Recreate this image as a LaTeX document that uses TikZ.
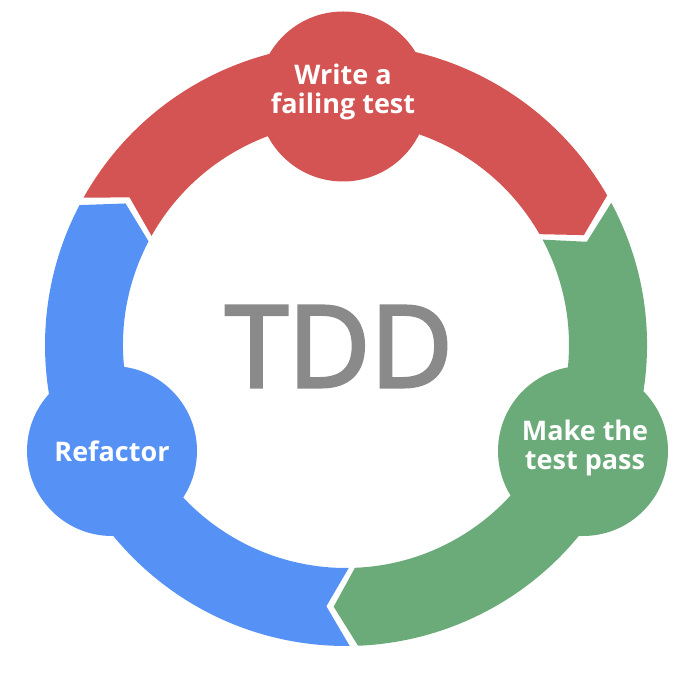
\documentclass[tikz,border=0pt]{standalone}
\usepackage{fontspec}
\setmainfont{Open Sans}
\newfontfamily\hubfont{Open Sans}[FakeBold=3]
\definecolor{tddred}{RGB}{212, 83, 83}
\definecolor{tddgreen}{RGB}{107, 170, 121}
\definecolor{tddblue}{RGB}{86, 146, 245}
\definecolor{tddgray}{RGB}{138, 138, 138}
\usepackage{tikz}
\usetikzlibrary{calc}

\begin{document}
\begin{tikzpicture}[
    x=1pt, y=1pt,
    stage/.style={circle, minimum size=170pt, inner sep=0pt},
    stagetext/.style={text=white, align=center, inner sep=0pt,
                      font=\bfseries\fontsize{27}{29}\selectfont}
  ]
    \useasboundingbox (0,0) rectangle (695,680);
    \coordinate (hub) at (346,335);

    % ring pieces: start angle / end angle / colour (clockwise)
    \foreach \s/\e/\c in {150.7/29.8/tddred, 28.2/-87.7/tddgreen,
                          -89.3/-207.7/tddblue}
      \fill[\c] ($(hub)+(\s:301)$) arc[start angle=\s, end angle=\e, radius=301]
        -- ($(hub)+(\e-5:262)$) -- ($(hub)+(\e:223)$)
        arc[start angle=\e, end angle=\s, radius=223]
        -- ($(hub)+(\s-5:262)$) -- cycle;

    \node[stage, fill=tddred] (write) at (343,583.5) {};
    \node[stage, fill=tddgreen] (pass) at (583,229) {};
    \node[stage, fill=tddblue] (refactor) at (112,229) {};

    \node[stagetext] (writetext) at ([yshift=4.5]write) {Write a\\failing test};
    \node[stagetext] (passtext) at ([xshift=2,yshift=3.5]pass) {Make the\\test pass};
    \node[stagetext] (refactortext) at (refactor) {Refactor};

    \node[text=tddgray, inner sep=0pt, font=\hubfont\fontsize{113}{113}\selectfont]
      (tdd) at (339,333.5) {TDD};
  \end{tikzpicture}
\end{document}
